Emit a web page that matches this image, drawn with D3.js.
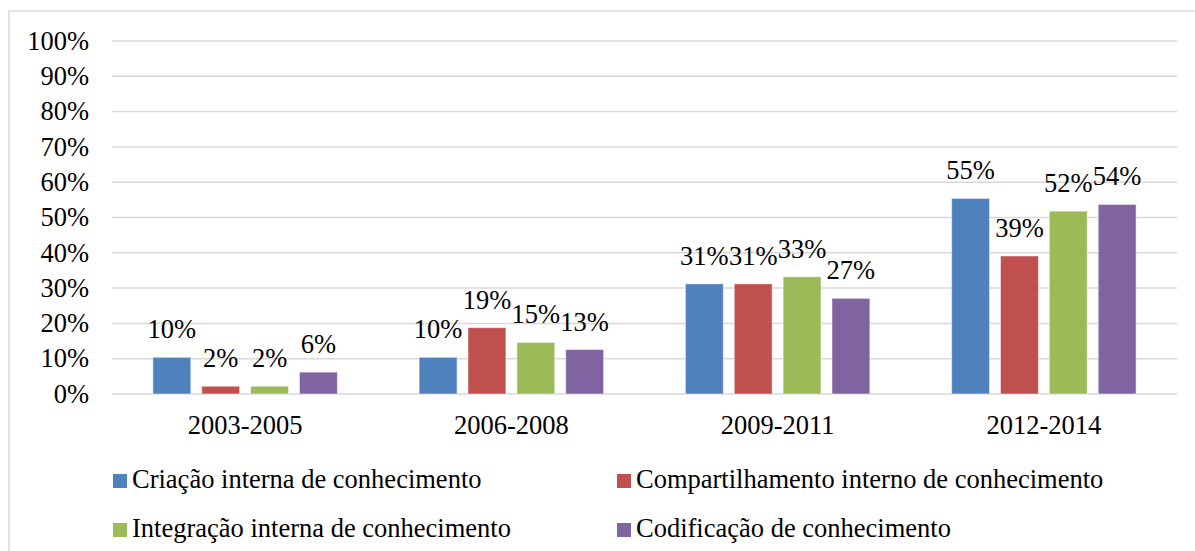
<!DOCTYPE html>
<html>
<head>
<meta charset="utf-8">
<script src="https://cdn.jsdelivr.net/npm/d3@7"></script>
<style>
	html, body { margin: 0; padding: 0; background: #fff; }
	text { font-family: Tinos; font-size: 26.5px; fill: #000; }
</style>
</head>
<body>
<svg id="chart" width="1195" height="551"></svg>
<script>
	// The periods along the x axis
	var categories = ['2003-2005', '2006-2008', '2009-2011', '2012-2014'];
	// The series names, as shown in the legend
	var seriesNames = [
		'Criação interna de conhecimento',
		'Compartilhamento interno de conhecimento',
		'Integração interna de conhecimento',
		'Codificação de conhecimento'
	];
	// Values (percent) per series, one per period
	var criacao = [10.4, 10.4, 31.2, 55.4];
	var compartilhamento = [2.2, 18.8, 31.2, 39.1];
	var integracao = [2.2, 14.6, 33.2, 51.8];
	var codificacao = [6.2, 12.6, 27.1, 53.7];
	// The y axis ticks
	var yTicks = [0, 10, 20, 30, 40, 50, 60, 70, 80, 90, 100];

	var seriesValues = [criacao, compartilhamento, integracao, codificacao];
	var COLORS = ['#4F81BD', '#C0504D', '#9BBB59', '#8064A2'];
	var GRID = '#d9d9d9';

	// Plot area bounds
	var PLOT = { left: 112, right: 1177, top: 41, bottom: 394 };

	var svg = d3.select('#chart');

	// Outer chart border (right and bottom edges fall outside the picture)
	svg.append('rect')
		.attr('x', 9).attr('y', 11)
		.attr('width', 1200).attr('height', 600)
		.attr('fill', 'none')
		.attr('stroke', GRID)
		.attr('stroke-width', 1.5);

	var y = d3.scaleLinear().domain([0, 100]).range([PLOT.bottom, PLOT.top]);

	// Group band and the bars inside each group
	var x0 = d3.scaleBand().domain(categories)
		.range([PLOT.left, PLOT.right])
		.paddingInner(0.266).paddingOuter(0.133);
	var x1 = d3.scaleBand().domain(d3.range(seriesNames.length))
		.range([0, x0.bandwidth()])
		.paddingInner(0.224).paddingOuter(0.112);

	// Horizontal gridlines
	svg.append('g').selectAll('line')
		.data(yTicks)
		.enter().append('line')
		.attr('x1', PLOT.left).attr('x2', PLOT.right)
		.attr('y1', y).attr('y2', y)
		.attr('stroke', GRID)
		.attr('stroke-width', 1.5);

	// Percent labels on the left
	svg.selectAll('text.ytick')
		.data(yTicks)
		.enter().append('text')
		.attr('class', 'ytick')
		.attr('x', PLOT.left - 23)
		.attr('y', y)
		.attr('dy', '0.33em')
		.attr('text-anchor', 'end')
		.text(function (d) { return d + '%'; });

	// Category labels under the bars
	svg.selectAll('text.xtick')
		.data(categories)
		.enter().append('text')
		.attr('class', 'xtick')
		.attr('x', function (d) { return x0(d) + x0.bandwidth() / 2; })
		.attr('y', PLOT.bottom + 40)
		.attr('text-anchor', 'middle')
		.text(function (d) { return d; });

	// Flatten into one record per bar
	var bars = [];
	categories.forEach(function (c, ci) {
		seriesValues.forEach(function (vals, si) {
			bars.push({ c: c, s: si, v: vals[ci] });
		});
	});

	svg.selectAll('rect.bar')
		.data(bars)
		.enter().append('rect')
		.attr('class', 'bar')
		.attr('x', function (d) { return x0(d.c) + x1(d.s); })
		.attr('y', function (d) { return y(d.v); })
		.attr('width', x1.bandwidth())
		.attr('height', function (d) { return y(0) - y(d.v); })
		.attr('fill', function (d) { return COLORS[d.s]; })
		.attr('stroke', '#fff')
		.attr('stroke-opacity', 0.5)
		.attr('stroke-width', 1);

	// Value labels above each bar
	svg.selectAll('text.value')
		.data(bars)
		.enter().append('text')
		.attr('class', 'value')
		.attr('x', function (d) { return x0(d.c) + x1(d.s) + x1.bandwidth() / 2; })
		.attr('y', function (d) { return y(d.v) - 19; })
		.attr('text-anchor', 'middle')
		.text(function (d) { return Math.round(d.v) + '%'; });

	// Legend in two rows of two
	var legendX = [113, 617, 113, 617];
	var legendY = [488, 488, 537, 537];

	svg.selectAll('rect.key')
		.data(seriesNames)
		.enter().append('rect')
		.attr('class', 'key')
		.attr('x', function (d, i) { return legendX[i]; })
		.attr('y', function (d, i) { return legendY[i] - 14; })
		.attr('width', 14).attr('height', 14)
		.attr('fill', function (d, i) { return COLORS[i]; });

	svg.selectAll('text.key')
		.data(seriesNames)
		.enter().append('text')
		.attr('class', 'key')
		.attr('x', function (d, i) { return legendX[i] + 19; })
		.attr('y', function (d, i) { return legendY[i]; })
		.text(function (d) { return d; });
</script>
</body>
</html>
